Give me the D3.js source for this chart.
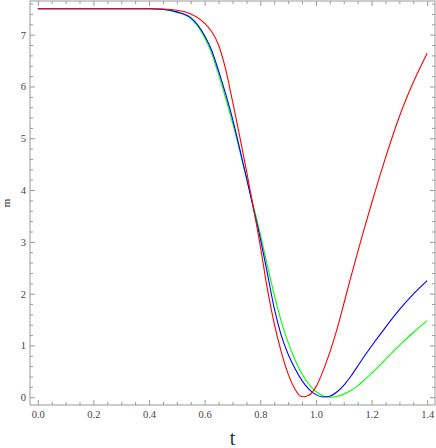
<!DOCTYPE html>
<html>
<head>
<meta charset="utf-8">
<script src="https://cdn.jsdelivr.net/npm/d3@7"></script>
<style>
  body { margin: 0; background: #fff; }
  svg { display: block; }
  .tickLabel { font-family: 'Liberation Serif', 'DejaVu Serif', serif; font-size: 10.5px; fill: #444; }
  .axisTitle { font-family: 'Liberation Serif', 'DejaVu Serif', serif; fill: #333; }
</style>
</head>
<body>
<div id="chart"></div>
<script>
//sample times shared by all three curves
var times = [0, 0.1, 0.2, 0.3, 0.4, 0.45, 0.5, 0.55, 0.6, 0.625, 0.65, 0.675, 0.7, 0.725, 0.75, 0.775, 0.8,
  0.825, 0.85, 0.875, 0.9, 0.925, 0.95, 0.975, 1.0, 1.025, 1.05, 1.075, 1.1, 1.125, 1.15,
  1.175, 1.2, 1.25, 1.3, 1.35, 1.4];

//m values
var redValues = [7.5, 7.5, 7.5, 7.5, 7.5, 7.495, 7.47, 7.4, 7.22, 7.06, 6.8, 6.34, 5.72, 5.06, 4.38, 3.66, 2.92,
  2.1, 1.42, 0.88, 0.45, 0.15, 0.01, 0.04, 0.2, 0.5, 0.87, 1.3, 1.8, 2.31, 2.8,
  3.28, 3.74, 4.62, 5.42, 6.08, 6.64];
var blueValues = [7.5, 7.5, 7.5, 7.5, 7.5, 7.49, 7.44, 7.33, 6.98, 6.7, 6.3, 5.86, 5.38, 4.82, 4.24, 3.65, 3.06,
  2.4, 1.72, 1.2, 0.83, 0.55, 0.32, 0.15, 0.05, 0.005, 0.02, 0.1, 0.23, 0.4, 0.6,
  0.8, 0.99, 1.35, 1.69, 1.99, 2.25];
var greenValues = [7.5, 7.5, 7.5, 7.5, 7.5, 7.485, 7.43, 7.31, 6.94, 6.64, 6.23, 5.78, 5.3, 4.78, 4.24, 3.7, 3.15,
  2.55, 1.98, 1.47, 1.06, 0.72, 0.45, 0.25, 0.11, 0.03, 0.0, 0.015, 0.06, 0.13, 0.22,
  0.34, 0.46, 0.73, 1.0, 1.25, 1.48];

//tick labels
var xTickValues = [0, 0.2, 0.4, 0.6, 0.8, 1.0, 1.2, 1.4];
var yTickValues = [0, 1, 2, 3, 4, 5, 6, 7];

var width = 436;
var height = 448;

//frame edges
var frameLeft = 30;
var frameRight = 435;
var frameTop = 1;
var frameBottom = 405;

var svg = d3
  .select('#chart')
  .append('svg')
  .attr('width', width)
  .attr('height', height);

//plot range with a bit of padding round the data
var xScale = d3.scaleLinear().domain([-0.028, 1.428]).range([frameLeft, frameRight]);
var yScale = d3.scaleLinear().domain([-0.15, 7.65]).range([frameBottom, frameTop]);

//minor ticks
var xMinor = d3.range(0, 1.43, 0.05).filter(function(v) {
  return Math.abs(v * 5 - Math.round(v * 5)) > 1e-6;
});
var yMinor = d3.range(0, 7.65, 0.2).filter(function(v) {
  return Math.abs(v - Math.round(v)) > 1e-6;
});

var frameColor = '#999';

//bottom and top axes (ticks point inward, labels only at bottom)
var bottomAxis = d3.axisBottom(xScale)
  .tickValues(xTickValues)
  .tickSize(-5)
  .tickPadding(6)
  .tickFormat(d3.format('.1f'));
var bottomMinor = d3.axisBottom(xScale).tickValues(xMinor).tickSize(-3).tickFormat('');
var topAxis = d3.axisTop(xScale).tickValues(xTickValues).tickSize(-5).tickFormat('');
var topMinor = d3.axisTop(xScale).tickValues(xMinor).tickSize(-3).tickFormat('');

//left and right axes
var leftAxis = d3.axisLeft(yScale)
  .tickValues(yTickValues)
  .tickSize(-5)
  .tickPadding(4)
  .tickFormat(d3.format('d'));
var leftMinor = d3.axisLeft(yScale).tickValues(yMinor).tickSize(-3).tickFormat('');
var rightAxis = d3.axisRight(yScale).tickValues(yTickValues).tickSize(-5).tickFormat('');
var rightMinor = d3.axisRight(yScale).tickValues(yMinor).tickSize(-3).tickFormat('');

function drawAxis(axis, transform) {
  var g = svg.append('g').attr('transform', transform).call(axis);
  g.select('.domain').remove();
  g.selectAll('line').attr('stroke', frameColor).attr('stroke-width', 1);
  g.selectAll('text').attr('class', 'tickLabel').attr('fill', '#444');
  return g;
}

drawAxis(bottomAxis, 'translate(0,' + frameBottom + ')');
drawAxis(bottomMinor, 'translate(0,' + frameBottom + ')');
drawAxis(topAxis, 'translate(0,' + frameTop + ')');
drawAxis(topMinor, 'translate(0,' + frameTop + ')');
drawAxis(leftAxis, 'translate(' + frameLeft + ',0)');
drawAxis(leftMinor, 'translate(' + frameLeft + ',0)');
drawAxis(rightAxis, 'translate(' + frameRight + ',0)');
drawAxis(rightMinor, 'translate(' + frameRight + ',0)');

//the frame
svg.append('rect')
  .attr('x', frameLeft)
  .attr('y', frameTop)
  .attr('width', frameRight - frameLeft)
  .attr('height', frameBottom - frameTop)
  .attr('fill', 'none')
  .attr('stroke', frameColor)
  .attr('stroke-width', 1);

//clip curves to the frame
svg.append('clipPath')
  .attr('id', 'plotClip')
  .append('rect')
  .attr('x', frameLeft)
  .attr('y', frameTop)
  .attr('width', frameRight - frameLeft)
  .attr('height', frameBottom - frameTop);

var line = d3.line()
  .x(function(d) { return xScale(d[0]); })
  .y(function(d) { return yScale(d[1]); })
  .curve(d3.curveMonotoneX);

var series = [
  { values: greenValues, color: '#00ff00' },
  { values: blueValues, color: '#0000ff' },
  { values: redValues, color: '#ff0000' }
];

series.forEach(function(s) {
  var pts = times.map(function(t, i) { return [t, s.values[i]]; });
  svg.append('path')
    .datum(pts)
    .attr('clip-path', 'url(#plotClip)')
    .attr('fill', 'none')
    .attr('stroke', s.color)
    .attr('stroke-width', 1.1)
    .attr('d', line);
});

//axis titles
svg.append('text')
  .attr('class', 'axisTitle')
  .attr('x', (frameLeft + frameRight) / 2)
  .attr('y', 445)
  .attr('text-anchor', 'middle')
  .attr('font-size', 20)
  .text('t');

svg.append('text')
  .attr('class', 'axisTitle')
  .attr('transform', 'translate(10,' + ((frameTop + frameBottom) / 2) + ')rotate(-90)')
  .attr('text-anchor', 'middle')
  .attr('font-size', 11)
  .text('m');
</script>
</body>
</html>
